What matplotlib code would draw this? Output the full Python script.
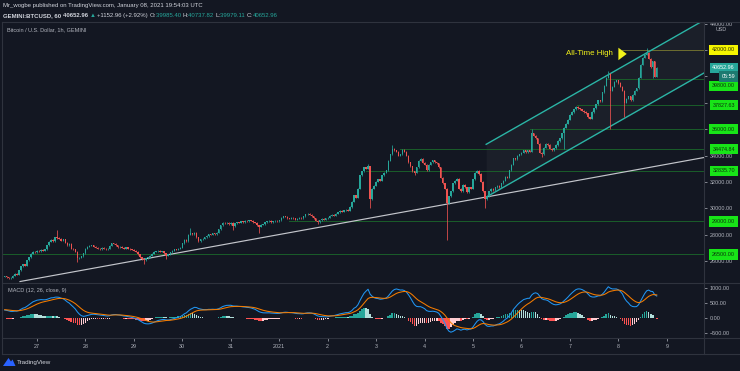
import matplotlib
matplotlib.use("Agg")
import matplotlib.pyplot as plt
import numpy as np
from matplotlib.lines import Line2D
from matplotlib.patches import Polygon

# ---------------- data ----------------
day_labels = ["27", "28", "29", "30", "31", "2021", "2", "3", "4", "5", "6", "7", "8", "9"]
first_day_hour = 16          # hourly candles start Dec 26 08:00 UTC; Dec 27 00:00 is candle 16

first_open = 24800
closes_dec26 = [24850, 24780, 24700, 24720, 24900, 25050, 24980, 25300, 25600, 25750, 25650, 26050,
                26300, 26550, 26700, 26650]
closes_dec27 = [26800, 26750, 26850, 26780, 26900, 27200, 27450, 27600, 27500, 27800, 27750, 27700,
                27550, 27650, 27380, 27200, 27300, 26950, 26900, 26700, 26200, 26250, 26350, 26600]
closes_dec28 = [26950, 27100, 27150, 27200, 27100, 27000, 26950, 26900, 27000, 26950, 26880, 26950,
                27150, 27350, 27300, 27200, 27050, 27100, 27000, 26950, 27050, 26950, 26900, 26850]
closes_dec29 = [26800, 26700, 26500, 26300, 26150, 26050, 26200, 26300, 26400, 26550, 26700, 26750,
                26800, 26700, 26750, 26600, 26400, 26500, 26650, 26800, 26900, 26850, 26950, 27000]
closes_dec30 = [27350, 27600, 27500, 28000, 28100, 28050, 28150, 27800, 27500, 27650, 27700, 27800,
                27900, 28050, 28000, 28100, 28050, 28150, 28400, 28700, 28900, 28850, 28900, 28800]
closes_dec31 = [28900, 28650, 28850, 28950, 28900, 29000, 28950, 29050, 29000, 29100, 29050, 28950,
                28900, 28700, 28600, 28750, 28800, 28950, 29000, 29050, 28950, 29000, 29050, 29000]
closes_jan01 = [29100, 29300, 29400, 29350, 29250, 29200, 29300, 29250, 29150, 29200, 29300, 29250,
                29400, 29550, 29600, 29500, 29400, 29250, 29050, 28950, 29100, 29200, 29150, 29250]
closes_jan02 = [29300, 29450, 29500, 29450, 29600, 29700, 29800, 29750, 29850, 29900, 29800, 30100,
                30500, 31000, 30800, 31500, 32500, 32800, 33100, 33000, 33200, 30700, 31500, 31700]
closes_jan03 = [32000, 32200, 32100, 32500, 32700, 32900, 33600, 34100, 34500, 34400, 34300, 34000,
                34100, 34450, 34300, 34000, 33500, 33200, 32800, 32700, 33100, 33600, 33750, 33450]
closes_jan04 = [33300, 32900, 33300, 33500, 33650, 33500, 33400, 33100, 32300, 31900, 31500, 30400,
                30900, 31300, 31900, 32100, 32250, 31500, 31300, 31800, 31600, 31200, 31600, 31500]
closes_jan05 = [32200, 32700, 32850, 32600, 32000, 31300, 30700, 30900, 31300, 31500, 31350, 31600,
                31700, 31600, 31900, 32100, 32400, 32300, 32900, 33300, 33800, 33700, 34000, 34100]
closes_jan06 = [34200, 34400, 34250, 34400, 34300, 35700, 35500, 35300, 34900, 34200, 34100, 34600,
                34900, 34800, 34500, 34400, 34550, 34800, 35100, 35300, 35700, 36100, 36400, 36700]
closes_jan07 = [37100, 37300, 37500, 37700, 37600, 37500, 37400, 37300, 37200, 36900, 36800, 37300,
                37600, 37900, 38200, 38100, 38800, 39300, 39900, 40200, 38900, 39200, 39600, 39700]
closes_jan08 = [39500, 39200, 38900, 38000, 38300, 38500, 38200, 38600, 38900, 39100, 39900, 40900,
                41400, 41650, 41800, 41350, 40700, 41150, 39985.40, 40652.96]

closes = (closes_dec26 + closes_dec27 + closes_dec28 + closes_dec29 + closes_dec30 + closes_dec31 +
          closes_jan01 + closes_jan02 + closes_jan03 + closes_jan04 + closes_jan05 + closes_jan06 +
          closes_jan07 + closes_jan08)

# visible wicks (candle index -> price)
spike_highs = {26: 28360, 92: 28500, 180: 33350, 192: 34800, 261: 36000, 299: 40400, 318: 42150,
               323: 40737.82}
spike_lows = {36: 25900, 69: 25800, 80: 26150, 113: 28350, 126: 28100, 155: 28800, 181: 30000,
              203: 32500, 219: 27600, 238: 30000, 266: 33900, 277: 34500, 300: 36000, 307: 36900,
              321: 39880, 323: 39979.11}

# horizontal level drawings
level_prices = [42000, 39800, 37827.63, 36000, 34474.84, 32835.70, 29000, 26500]
level_texts = ["42000.00", "39800.00", "37827.63", "36000.00", "34474.84", "32835.70", "29000.00", "26500.00"]
level_start_hours = [306, 298, 283.5, 260, 196, 179, 141, -2]

# trend line and parallel channel drawings (hour index, price)
trend_start = (7.6, 24450)
trend_end = (346.4, 33850)
channel_start_hour = 238.5
channel_start_price = 30850
channel_slope = 87.2
channel_width = 4000

ath_text_pos = (289.7, 41700)
ath_arrow = ((304.0, 41700), (309.5, 41700))

last_price = 40652.96
price_ticks = [26000, 28000, 30000, 32000, 34000, 36000, 38000, 40000, 42000, 44000]
hidden_price_ticks = [36000, 38000, 40000, 42000]   # covered by the level labels in the reference
macd_ticks = [-500, 0, 500, 1000]
macd_seed = dict(ema12=24650, ema26=24380, signal=280)

header_line1 = "Mr_wogbe published on TradingView.com, January 08, 2021 19:54:03 UTC"
header_line2 = [("GEMINI:BTCUSD, 60 ", "w"), ("40652.96 ", "w"), ("\u25b2 ", "t"), ("+1152.96 (+2.92%) ", "w"),
                ("O:", "w"), ("39985.40 ", "t"), ("H:", "w"), ("40737.82 ", "t"), ("L:", "w"),
                ("39979.11 ", "t"), ("C:", "w"), ("40652.96", "t")]

# ---------------- style ----------------
BG = "#131722"
FRAME = "#2f333e"
TXT = "#d1d4dc"
AXT = "#b2b5be"
UP = "#26a69a"
DN = "#ef5350"
FONT = ["Liberation Sans", "DejaVu Sans"]
plt.rcParams["font.family"] = FONT

W, H = 740, 371
fig = plt.figure(figsize=(W / 100, H / 100), dpi=100)
fig.patch.set_facecolor(BG)


def fxy(px, py):
    return px / W, 1 - py / H


ax = fig.add_axes([2 / W, 1 - 283 / H, 702 / W, 261 / H])
mac = fig.add_axes([2 / W, 1 - 338 / H, 702 / W, 55 / H], sharex=ax)
for a in (ax, mac):
    a.set_facecolor(BG)
    for s in a.spines.values():
        s.set_visible(False)

ax.set_xlim(-1.33, 346.4)
ax.set_ylim(24338, 44122)
mac.set_ylim(-667, 1167)

# ---------------- candles ----------------
c = np.array(closes, float)
o = np.array([first_open] + closes[:-1], float)
n = len(c)
x = np.arange(n)
hi = np.maximum(o, c) + 40
lo = np.minimum(o, c) - 40
for k, v in spike_highs.items():
    hi[k] = v
for k, v in spike_lows.items():
    lo[k] = v
colors = np.where(c >= o, UP, DN)
ax.vlines(x, lo, hi, colors=colors, lw=0.55, zorder=4)
body_h = np.maximum(np.abs(c - o), 40)
ax.bar(x, body_h, bottom=np.minimum(o, c), width=0.72, color=colors, linewidth=0, zorder=5)

# ---------------- drawings ----------------
xr = ax.get_xlim()[1]
for p, s0, t in zip(level_prices, level_start_hours, level_texts):
    col = "#6e6e30" if t == "42000.00" else "#1a5e2a"
    ax.plot([s0, xr], [p, p], color=col, lw=0.7, zorder=2)

tx = [trend_start[0], xr]
slope_t = (trend_end[1] - trend_start[1]) / (trend_end[0] - trend_start[0])
ax.plot(tx, [trend_start[1], trend_start[1] + slope_t * (xr - trend_start[0])], color="#c4c6cc", lw=0.85, zorder=3)

cx = np.array([channel_start_hour, xr])
low_line = channel_start_price + channel_slope * (cx - channel_start_hour)
up_line = low_line + channel_width
ax.fill_between(cx, low_line, up_line, color="#ffffff", alpha=0.035, lw=0, zorder=1)
ax.plot(cx, low_line, color="#2bb5a6", lw=1.0, zorder=3)
ax.plot(cx, up_line, color="#2bb5a6", lw=1.0, zorder=3)

ax.text(ath_text_pos[0], ath_text_pos[1], "All-Time High", color="#f2f21a", fontsize=5.7,
        ha="center", va="center", zorder=6)
ax.annotate("", xy=ath_arrow[1], xytext=ath_arrow[0],
            arrowprops=dict(arrowstyle="simple,head_length=0.6,head_width=0.9,tail_width=0.45",
                            color="#f2f21a", lw=0), zorder=6)

# ---------------- price axis ----------------
ax.yaxis.tick_right()
ax.set_yticks(price_ticks)
ax.set_yticklabels(["" if v in hidden_price_ticks else f"{v:.2f}" for v in price_ticks])
ax.tick_params(axis="y", colors=AXT, labelsize=3.9, length=2.5, width=0.5, pad=1.5)
ax.tick_params(axis="x", bottom=False, labelbottom=False)
ax.text(1.0245, 0.973, "USD", transform=ax.transAxes, color=AXT, fontsize=3.9, ha="center", va="center")

ytr = ax.get_yaxis_transform()
LBL_X = 22.3  # points right of the pane edge (right aligned)
for p, t in zip(level_prices, level_texts):
    if t == "42000.00":
        fc, tc = "#f5f500", "#2b2b00"
    else:
        fc, tc = "#18e418", "#0b330b"
    dy = -5.0 if t == "39800.00" else 0
    ax.annotate(t, xy=(1, p), xycoords=ytr, xytext=(LBL_X, dy), textcoords="offset points",
                ha="right", va="center", fontsize=3.9, color=tc, annotation_clip=False,
                bbox=dict(boxstyle="square,pad=0.5", fc=fc, ec="none"), zorder=8)
ax.annotate(f"{last_price:.2f}", xy=(1, last_price), xycoords=ytr, xytext=(LBL_X, 0),
            textcoords="offset points", ha="right", va="center", fontsize=3.9, color="white",
            annotation_clip=False, bbox=dict(boxstyle="square,pad=0.5", fc="#26a69a", ec="none"), zorder=8)
ax.annotate("05:59", xy=(1, last_price), xycoords=ytr, xytext=(LBL_X, -6.4),
            textcoords="offset points", ha="right", va="center", fontsize=3.9, color="white",
            annotation_clip=False, bbox=dict(boxstyle="square,pad=0.5", fc="#1d7a70", ec="none"), zorder=8)

# ---------------- MACD ----------------
def ema(vals, span, seed):
    a = 2.0 / (span + 1)
    out, e = [], seed
    for v in vals:
        e = e + a * (v - e)
        out.append(e)
    return np.array(out)


macd = ema(c, 12, macd_seed["ema12"]) - ema(c, 26, macd_seed["ema26"])
signal = ema(macd, 9, macd_seed["signal"])
hist = macd - signal
prev = np.concatenate([[hist[0]], hist[:-1]])
hcol = np.where(hist >= 0, np.where(hist >= prev, "#26a69a", "#b2dfdb"),
                np.where(hist >= prev, "#ffcdd2", "#ff5252"))
mac.bar(x, hist, width=0.8, color=hcol, linewidth=0, zorder=2)
mac.plot(x, macd, color="#2196f3", lw=0.75, zorder=3)
mac.plot(x, signal, color="#f57c00", lw=0.75, zorder=3)
mac.yaxis.tick_right()
mac.set_yticks(macd_ticks)
mac.set_yticklabels([f"{v:.2f}".replace("-", "\u2212") for v in macd_ticks])
mac.tick_params(axis="y", colors=AXT, labelsize=3.9, length=2.5, width=0.5, pad=1.5)
mac.set_xticks([first_day_hour + 24 * k for k in range(len(day_labels))])
mac.set_xticklabels(day_labels)
mac.tick_params(axis="x", colors=AXT, labelsize=3.9, length=2, width=0.5, pad=2.4)
mac.text(0.009, 0.86, "MACD (12, 26, close, 9)", transform=mac.transAxes, color=AXT, fontsize=4.0,
         ha="left", va="center")

# ---------------- frame ----------------
def hline(py, x0=2, x1=740):
    fig.add_artist(Line2D([x0 / W, x1 / W], [1 - py / H, 1 - py / H], color=FRAME, lw=0.8))


def vline(px, y0, y1):
    fig.add_artist(Line2D([px / W, px / W], [1 - y0 / H, 1 - y1 / H], color=FRAME, lw=0.8))


hline(22)
hline(283)
hline(338)
hline(354)
vline(2, 22, 354)
vline(704, 22, 354)

# ---------------- texts ----------------
fig.text(*fxy(7, 29.5), "Bitcoin / U.S. Dollar, 1h, GEMINI", color=AXT, fontsize=4.0, va="center")
fig.text(*fxy(3, 6), header_line1, color=TXT, fontsize=4.3, va="center")
renderer = fig.canvas.get_renderer()
xp = 3
for s, k in header_line2:
    t = fig.text(xp / W, 1 - 15.3 / H, s, color=TXT if k == "w" else "#26a69a", fontsize=4.35,
                 va="center", fontweight="bold" if xp < 90 else "normal")
    xp = t.get_window_extent(renderer).x1

# TradingView logo
fig.add_artist(Polygon([fxy(3, 366), fxy(8.5, 358), fxy(11, 361.5), fxy(12.5, 359.5), fxy(15.5, 366)],
                       closed=True, fc="#2962ff", ec="none"))
fig.text(*fxy(16.5, 362.5), "TradingView", color=TXT, fontsize=4.5, va="center")

fig.savefig("out.png", dpi=100, facecolor=BG)
